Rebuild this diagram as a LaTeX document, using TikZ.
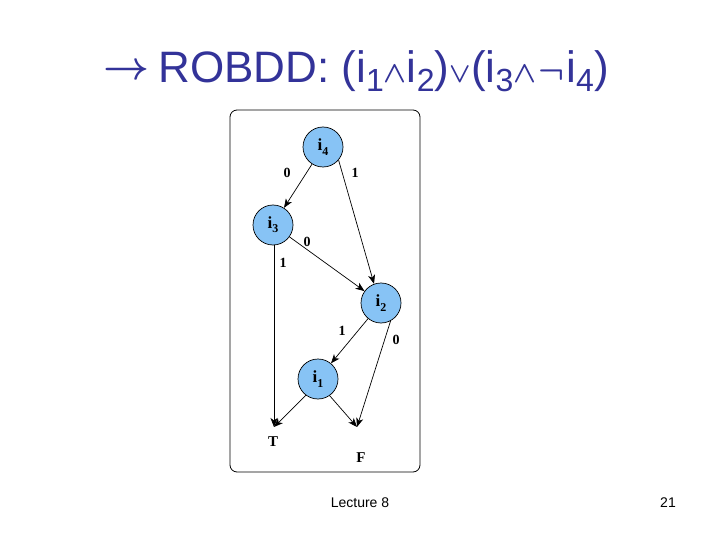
\documentclass[tikz,border=0pt]{standalone}
\usepackage{graphicx}
\usepackage{fontspec}
\setmainfont{Liberation Serif}
\newfontfamily\arialf{Liberation Sans}
\usetikzlibrary{arrows.meta}
\definecolor{titleblue}{RGB}{51,51,153}
\definecolor{nodeblue}{RGB}{135,195,245}
\newcommand\tsub[1]{\raisebox{-9pt}{\fontsize{32}{32}\selectfont #1}}
\newcommand\tsym[3]{\makebox[#1][c]{\scalebox{#2}{\fontsize{10}{12}\selectfont\boldmath$#3$}}}
\newcommand\nsub[1]{\raisebox{-0.25em}{\fontsize{12}{12}\selectfont\bfseries #1}}
\begin{document}
\begin{tikzpicture}[x=1pt,y=-1pt,
  bdd/.style={circle,draw=black,line width=0.7pt,fill=nodeblue,minimum size=40pt,inner sep=0pt,font=\fontsize{17}{17}\selectfont\bfseries},
  edge/.style={line width=0.7pt,-{Stealth[length=9pt,width=7pt,inset=2.5pt]}},
  lab/.style={font=\fontsize{14}{14}\selectfont\bfseries,inner sep=0pt},
  term/.style={font=\fontsize{15}{15}\selectfont\bfseries,inner sep=0pt}]
\useasboundingbox (0,0) rectangle (720,540);
\fill[white] (0,0) rectangle (720,540);
% title
\node[anchor=base west,text=titleblue,font=\arialf\fontsize{44}{44}\selectfont,inner sep=0pt] (title) at (106,83)
  {\raisebox{3pt}{\tsym{40pt}{4}{\rightarrow}} ROBDD: (i\tsub{1}\tsym{23pt}{3}{\wedge}i\tsub{2})\tsym{22pt}{2.8}{\vee}(i\tsub{3}\tsym{23pt}{3}{\wedge}\tsym{30pt}{3.4}{\neg}i\tsub{4})};
% frame
\draw[line width=0.8pt,rounded corners=7pt] (230,110) rectangle (420,472);
% nodes
\node[bdd] (i4) at (323,147) {i\nsub{4}};
\node[bdd] (i3) at (273,225) {i\nsub{3}};
\node[bdd] (i2) at (381,303) {i\nsub{2}};
\node[bdd] (i1) at (318,379) {i\nsub{1}};
\coordinate (Tend) at (274,427);
\coordinate (Fend) at (357,427);
\node[term] (T) at (273,442) {T};
\node[term] (F) at (361,458) {F};
% edges
\draw[edge] (i4) -- (i3);
\draw[edge] (i4.-40) -- (i2.110);
\draw[edge] (i3) -- (i2);
\draw[edge] (i3.south -| Tend) -- (Tend);
\draw[edge] (i2) -- (i1);
\draw[edge] (i2.-62) -- (Fend);
\draw[edge] (i1.-127) -- (Tend);
\draw[edge] (i1.-55) -- (Fend);
% edge labels
\node[lab] (l1) at (287,173) {0};
\node[lab] (l2) at (355,173) {1};
\node[lab] (l3) at (307,242) {0};
\node[lab] (l4) at (283,263) {1};
\node[lab] (l5) at (342,331) {1};
\node[lab] (l6) at (396,340) {0};
% footer
\node[font=\arialf\fontsize{14}{14}\selectfont,inner sep=0pt] (foot) at (360,503) {Lecture 8};
\node[font=\arialf\fontsize{14}{14}\selectfont,inner sep=0pt] (page) at (668,503) {21};
\end{tikzpicture}
\end{document}
